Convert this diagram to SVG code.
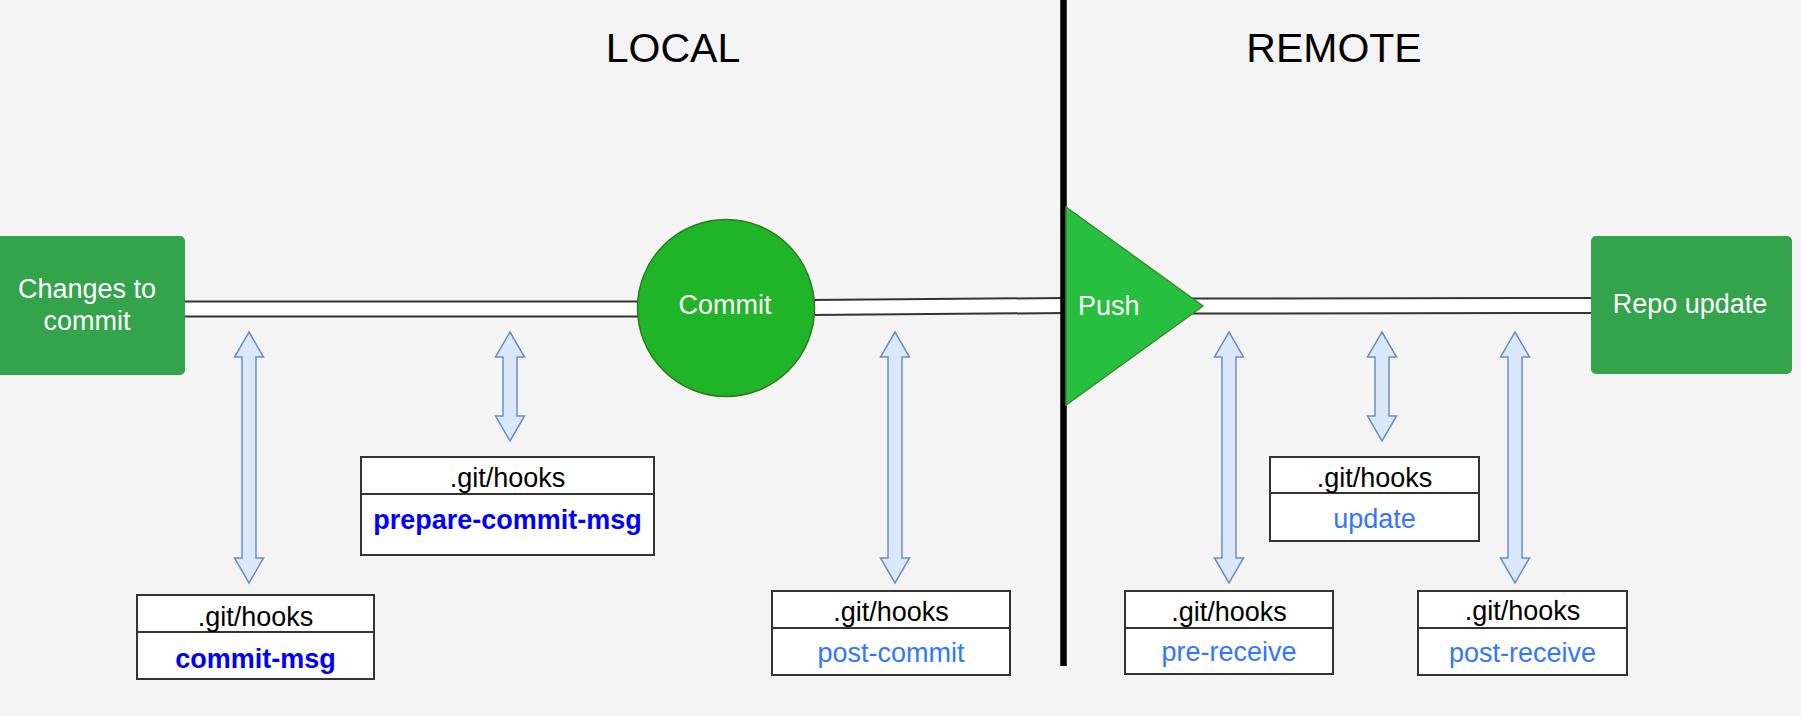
<svg xmlns="http://www.w3.org/2000/svg" width="1801" height="716" viewBox="0 0 1801 716">
<style>
text{font-family:"Liberation Sans",Arial,Helvetica,sans-serif}
.title{font-size:41px;fill:#000;text-anchor:middle}
.wt{font-size:27px;fill:#fff;text-anchor:middle}
.hk{font-size:27px;fill:#000;text-anchor:middle}
.nb{font-size:27px;fill:#0000ff;font-weight:bold;text-anchor:middle}
.nl{font-size:27px;fill:#3377ff;text-anchor:middle}
.box{fill:#fff;stroke:#333;stroke-width:2}
.div{stroke:#333;stroke-width:2}
.arr{fill:#dae8fc;stroke:#6c8ebf;stroke-width:1.5;stroke-linejoin:miter}
.po{stroke:#333;stroke-width:17;fill:none}
.pi{stroke:#fff;stroke-width:13;fill:none}
</style>
<defs>
<path id="arrL" d="M0,0 L14.5,25 L7,25 L7,226 L14.5,226 L0,251 L-14.5,226 L-7,226 L-7,25 L-14.5,25 Z"/>
<path id="arrS" d="M0,0 L14.5,25 L7,25 L7,84 L14.5,84 L0,109 L-14.5,84 L-7,84 L-7,25 L-14.5,25 Z"/>
</defs>
<rect x="0" y="0" width="1801" height="716" fill="#f4f4f4"/>

<g id="titles">
<text class="title" x="673" y="62">LOCAL</text>
<text class="title" x="1334" y="62">REMOTE</text>
</g>

<g id="connectors">
<line class="po" x1="180" y1="309" x2="645" y2="309"/>
<line class="pi" x1="180" y1="309" x2="645" y2="309"/>
<line class="po" x1="810" y1="307.5" x2="1064" y2="305.5"/>
<line class="pi" x1="810" y1="307.5" x2="1064" y2="305.5"/>
<line class="po" x1="1190" y1="306" x2="1595" y2="305.5"/>
<line class="pi" x1="1190" y1="306" x2="1595" y2="305.5"/>
<use href="#arrL" class="arr" x="249" y="332"/>
<use href="#arrS" class="arr" x="510" y="332"/>
<use href="#arrL" class="arr" x="895" y="332"/>
<use href="#arrL" class="arr" x="1229" y="332"/>
<use href="#arrS" class="arr" x="1382" y="332"/>
<use href="#arrL" class="arr" x="1515" y="332"/>
</g>

<g id="changes">
<rect x="-15" y="236" width="200" height="139" rx="5" fill="#34a44c"/>
<text class="wt" x="87" y="298">Changes to</text>
<text class="wt" x="87" y="330">commit</text>
</g>

<g id="commit">
<circle cx="726" cy="308" r="88.5" fill="#20b428" stroke="#2d7a1f" stroke-width="1.5"/>
<text class="wt" x="725" y="314">Commit</text>
</g>

<g id="divider">
<line x1="1063.5" y1="0" x2="1063.5" y2="666" stroke="#000" stroke-width="6.5"/>
</g>

<g id="push">
<polygon points="1066,207 1203,306 1066,405" fill="#26bf40" stroke="#3b8d2a" stroke-width="1.5"/>
<text class="wt" x="1078" y="315" style="text-anchor:start">Push</text>
</g>

<g id="repo">
<rect x="1591" y="236" width="201" height="138" rx="5" fill="#34a44c"/>
<text class="wt" x="1690" y="313">Repo update</text>
</g>

<g id="hook-commit-msg">
<rect class="box" x="137" y="595" width="237" height="84"/>
<line class="div" x1="137" y1="632" x2="374" y2="632"/>
<text class="hk" x="255.5" y="626">.git/hooks</text>
<text class="nb" x="255.5" y="668">commit-msg</text>
</g>

<g id="hook-prepare-commit-msg">
<rect class="box" x="361" y="457" width="293" height="98"/>
<line class="div" x1="361" y1="494" x2="654" y2="494"/>
<text class="hk" x="507.5" y="487">.git/hooks</text>
<text class="nb" x="507.5" y="529">prepare-commit-msg</text>
</g>

<g id="hook-post-commit">
<rect class="box" x="772" y="591" width="238" height="84"/>
<line class="div" x1="772" y1="628" x2="1010" y2="628"/>
<text class="hk" x="891" y="621">.git/hooks</text>
<text class="nl" x="891" y="662">post-commit</text>
</g>

<g id="hook-pre-receive">
<rect class="box" x="1125" y="591" width="208" height="83"/>
<line class="div" x1="1125" y1="628" x2="1333" y2="628"/>
<text class="hk" x="1229" y="621">.git/hooks</text>
<text class="nl" x="1229" y="661">pre-receive</text>
</g>

<g id="hook-update">
<rect class="box" x="1270" y="457" width="209" height="84"/>
<line class="div" x1="1270" y1="493" x2="1479" y2="493"/>
<text class="hk" x="1374.5" y="487">.git/hooks</text>
<text class="nl" x="1374.5" y="528">update</text>
</g>

<g id="hook-post-receive">
<rect class="box" x="1418" y="591" width="209" height="84"/>
<line class="div" x1="1418" y1="628" x2="1627" y2="628"/>
<text class="hk" x="1522.5" y="620">.git/hooks</text>
<text class="nl" x="1522.5" y="662">post-receive</text>
</g>
</svg>
